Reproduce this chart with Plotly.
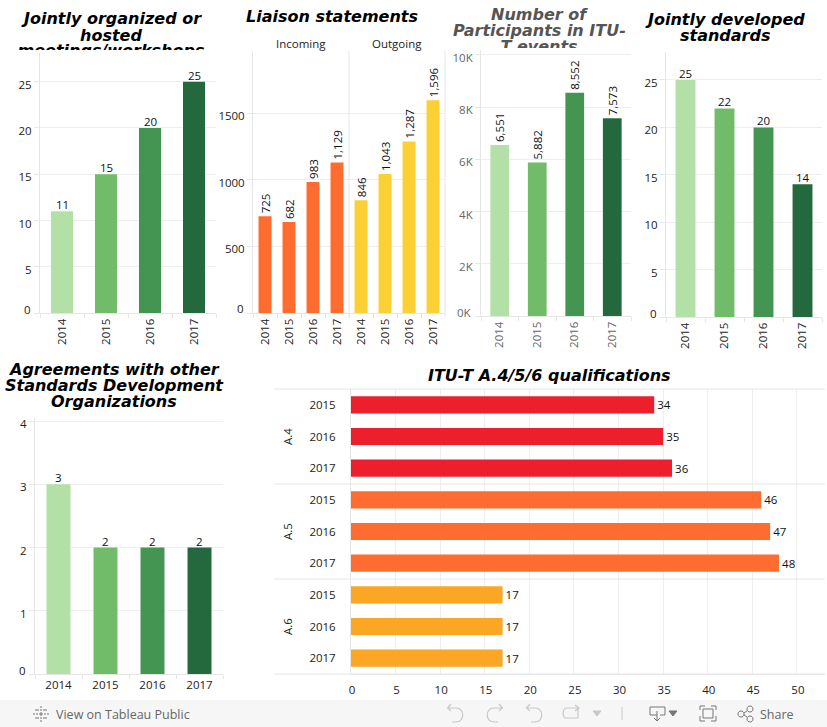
import plotly.graph_objects as go

W, H = 827, 727

years4 = ["2014", "2015", "2016", "2017"]
years3 = ["2015", "2016", "2017"]
greens = ["#B3E0A6", "#71BC68", "#449551", "#24693D"]

meetings = [11, 15, 20, 25]
liaison_cats = ["Incoming 2014", "Incoming 2015", "Incoming 2016", "Incoming 2017",
                "Outgoing 2014", "Outgoing 2015", "Outgoing 2016", "Outgoing 2017"]
liaison_labels = years4 + years4
liaison_vals = [725, 682, 983, 1129, 846, 1043, 1287, 1596]
liaison_colors = ["#FF6C2F"] * 4 + ["#FBD035"] * 4
participants = [6551, 5882, 8552, 7573]
standards = [25, 22, 20, 14]
agreements = [3, 2, 2, 2]
qual_cats = ["A.4 2015", "A.4 2016", "A.4 2017", "A.5 2015", "A.5 2016", "A.5 2017",
             "A.6 2015", "A.6 2016", "A.6 2017"]
qual_labels = years3 * 3
qual_vals = [34, 35, 36, 46, 47, 48, 17, 17, 17]
qual_colors = ["#ED1F2C"] * 3 + ["#FF6C2F"] * 3 + ["#FBA625"] * 3

FONT = "Open Sans"
TITLE = "DejaVu Sans"
INK = "#222222"
GREY = "#666666"
LINE = "#e6e6e6"
GRID = "#eeeeee"


def fx(px):
    return px / W


def fy(px):
    return 1 - px / H


fig = go.Figure()
layout = dict(
    width=W, height=H, autosize=False, margin=dict(l=0, r=0, t=0, b=0, pad=0),
    paper_bgcolor="white", plot_bgcolor="white", showlegend=False, bargap=0.5,
    font=dict(family=FONT, size=12, color=INK),
)
annotations = []
shapes = []


def add_vertical(idx, cats, vals, colors, xpx, ypx, ymax, yvals, ytext, gap, angle,
                 xangle=-90, color=INK, ticktext=None, yzero_shift=-4):
    sfx = "" if idx == 1 else str(idx)
    bar = dict(x=cats, y=vals, marker=dict(color=colors, line=dict(width=0)), width=gap,
               cliponaxis=False, xaxis="x" + sfx, yaxis="y" + sfx, hoverinfo="x+y")
    if angle:
        bar.update(texttemplate="%{y:,}", textposition="outside", textangle=angle,
                   constraintext="none", textfont=dict(family=FONT, size=11.5, color="#111111"))
    else:
        for i, v in enumerate(vals):
            annotations.append(dict(text=f"{v:,}", xref="x" + sfx, yref="y" + sfx, x=i, y=v,
                                    xanchor="center", yanchor="bottom", yshift=-3, showarrow=False,
                                    font=dict(family=FONT, size=11.5, color="#111111")))
    fig.add_trace(go.Bar(**bar))
    layout["xaxis" + sfx] = dict(
        domain=[fx(xpx[0]), fx(xpx[1])], anchor="y" + sfx, type="category", automargin=False,
        categoryorder="array", categoryarray=cats, tickmode="array", tickvals=cats,
        ticktext=ticktext or cats, tickson="boundaries", ticks="outside", ticklen=4,
        tickcolor=LINE, tickangle=xangle, showgrid=False, showline=True,
        linecolor=LINE, linewidth=1, zeroline=False, fixedrange=True,
        tickfont=dict(family=FONT, size=11.5, color=color))
    layout["yaxis" + sfx] = dict(
        domain=[fy(ypx[1]), fy(ypx[0])], anchor="x" + sfx, range=[0, ymax], automargin=False,
        tickmode="array", tickvals=yvals, ticktext=["" if v == 0 else t for v, t in zip(yvals, ytext)],
        ticks="outside", ticklen=5, tickcolor=LINE, showgrid=True, gridcolor=GRID,
        gridwidth=1, showline=True, linecolor=LINE, linewidth=1, zeroline=False,
        fixedrange=True, ticklabelshift=3, tickfont=dict(family=FONT, size=11.5, color=color))
    annotations.append(dict(
        text=ytext[0], xref="paper", x=fx(xpx[0] - 7), xanchor="right", yref="y" + sfx,
        y=0, yanchor="middle", yshift=-yzero_shift, showarrow=False,
        font=dict(family=FONT, size=11.5, color=color)))


add_vertical(1, years4, meetings, greens, (40, 216), (53, 313), 28.1,
             [0, 5, 10, 15, 20, 25], ["0", "5", "10", "15", "20", "25"], 0.5, 0)
add_vertical(2, liaison_cats, liaison_vals, liaison_colors, (253, 445), (51, 313), 1965,
             [0, 500, 1000, 1500], ["0", "500", "1000", "1500"], 0.54, -90,
             ticktext=liaison_labels)
add_vertical(3, years4, participants, greens, (481, 631), (50, 316), 10190,
             [0, 2000, 4000, 6000, 8000, 10000], ["0K", "2K", "4K", "6K", "8K", "10K"], 0.5, -90,
             color=GREY)
add_vertical(4, years4, standards, greens, (666, 822), (52, 317), 27.95,
             [0, 5, 10, 15, 20, 25], ["0", "5", "10", "15", "20", "25"], 0.51, 0)
add_vertical(5, years4, agreements, greens, (35, 223), (418, 674), 4.05,
             [0, 1, 2, 3, 4], ["0", "1", "2", "3", "4"], 0.51, 0, xangle=0)

# ITU-T A.4/5/6 qualifications
fig.add_trace(go.Bar(
    x=qual_vals, y=qual_cats, orientation="h", marker=dict(color=qual_colors, line=dict(width=0)),
    width=0.54, texttemplate="%{x}", textposition="outside", constraintext="none",
    textfont=dict(family=FONT, size=11.5, color="#111111"), cliponaxis=False,
    xaxis="x6", yaxis="y6", hoverinfo="x+y"))
layout["xaxis6"] = dict(
    domain=[fx(351), fx(825)], anchor="y6", range=[0, 53.15], tickmode="array", automargin=False,
    tickvals=[0, 5, 10, 15, 20, 25, 30, 35, 40, 45, 50],
    ticks="", showgrid=True, gridcolor=GRID, gridwidth=1, showline=True, linecolor=LINE,
    zeroline=False, fixedrange=True, ticklabelstandoff=5, ticklabelshift=1,
    tickfont=dict(family=FONT, size=11.5))
layout["yaxis6"] = dict(
    domain=[fy(674), fy(389)], anchor="x6", type="category", categoryorder="array", automargin=False,
    categoryarray=qual_cats[::-1], tickmode="array", tickvals=qual_cats, ticktext=qual_labels,
    ticks="", showgrid=False, showline=True, linecolor=LINE, zeroline=False,
    fixedrange=True, ticklabelstandoff=12, tickfont=dict(family=FONT, size=11.5))
for px in (389, 484, 579, 674):
    shapes.append(dict(type="line", xref="paper", yref="paper", x0=fx(274), x1=fx(825),
                       y0=fy(px), y1=fy(px), line=dict(color=LINE, width=1)))
for name, py in (("A.4", 437), ("A.5", 532), ("A.6", 627)):
    annotations.append(dict(text=name, xref="paper", yref="paper", x=fx(287), y=fy(py),
                            xanchor="center", yanchor="middle", textangle=-90, showarrow=False,
                            font=dict(family=FONT, size=11.5, color=INK)))

# liaison headers and dividers
for px in (349, 445):
    shapes.append(dict(type="line", xref="paper", yref="paper", x0=fx(px), x1=fx(px),
                       y0=fy(51), y1=fy(317), line=dict(color=LINE, width=1)))
for name, px in (("Incoming", 301), ("Outgoing", 397)):
    annotations.append(dict(text=name, xref="paper", yref="paper", x=fx(px), y=fy(43),
                            xanchor="center", yanchor="middle", showarrow=False,
                            font=dict(family=FONT, size=11.5, color=INK)))


def title_line(text, cx, cy, color="black", clip_bottom=None):
    a = dict(text=f"<b><i>{text}</i></b>", xref="paper", yref="paper", x=fx(cx), xanchor="center",
             showarrow=False, font=dict(family=TITLE, size=16, color=color), borderpad=0, borderwidth=0)
    if clip_bottom is None:
        a.update(y=fy(cy), yanchor="middle")
    else:
        top = cy - 11
        a.update(y=fy(top), yanchor="top", valign="top", height=clip_bottom - top,
                 width=260)
    annotations.append(a)


title_line("Jointly organized or", 111, 18)
title_line("hosted", 111, 35)
title_line("meetings/workshops", 111, 52, clip_bottom=50)
title_line("Liaison statements", 332, 16)
title_line("Number of", 539, 15, color="#555555")
title_line("Participants in ITU-", 539, 31, color="#555555")
title_line("T events", 539, 48, color="#555555", clip_bottom=48)
title_line("Jointly developed", 725, 20)
title_line("standards", 725, 36)
title_line("Agreements with other", 114, 369)
title_line("Standards Development", 114, 385)
title_line("Organizations", 114, 401)
title_line("ITU-T A.4/5/6 qualifications", 549, 375)

# footer toolbar
shapes.append(dict(type="rect", xref="paper", yref="paper", x0=0, x1=1, y0=0, y1=fy(700),
                   fillcolor="#f6f6f6", line=dict(width=0), layer="below"))
annotations.append(dict(text="View on Tableau Public", xref="paper", yref="paper", x=fx(54), y=fy(714),
                        xanchor="left", yanchor="middle", showarrow=False,
                        font=dict(family=FONT, size=12.5, color=GREY)))
annotations.append(dict(text="Share", xref="paper", yref="paper", x=fx(758), y=fy(714),
                        xanchor="left", yanchor="middle", showarrow=False,
                        font=dict(family=FONT, size=12.5, color=GREY)))


def icon(cmds, color, fill=None, width=1):
    parts = []
    for c in cmds:
        if isinstance(c, str):
            parts.append(c)
        else:
            parts.append(f"{fx(c[0]):.5f},{fy(c[1]):.5f}")
    d = dict(type="path", xref="paper", yref="paper", path=" ".join(parts), line=dict(color=color, width=width))
    if fill:
        d["fillcolor"] = fill
    shapes.append(d)


ARROW = "#c8c8c8"
DARK = "#777777"


def undo(x, flip=False):
    def X(v):
        return x + 16 - v if flip else x + v
    icon(["M", (X(5), 708), "L", (X(9), 708), "C", (X(18), 708), (X(18), 722), (X(9), 722), "L", (X(5), 722)], ARROW, width=1.2)
    icon(["M", (X(0.5), 708), "L", (X(5), 708), "M", (X(4), 704), "L", (X(0.5), 708), "L", (X(4), 711)], ARROW, width=1.2)


undo(447)
undo(487, flip=True)
undo(526)
icon(["M", (567, 708), "L", (578, 708), "L", (578, 718), "L", (566, 718), "C", (562, 718), (562, 708), (567, 708)], ARROW, width=1.2)
icon(["M", (575, 705), "L", (579, 708), "L", (575, 711)], ARROW, width=1.2)
icon(["M", (593, 711), "L", (601, 711), "L", (597, 716), "Z"], ARROW, fill=ARROW)
icon(["M", (622, 707), "L", (622, 720)], ARROW)
icon(["M", (657, 715), "L", (650, 715), "L", (650, 707), "L", (665, 707), "L", (665, 715), "L", (660, 715)], DARK)
icon(["M", (657, 711), "L", (657, 721), "M", (654, 718), "L", (657, 721), "L", (660, 718)], DARK)
icon(["M", (669, 711), "L", (677, 711), "L", (673, 716), "Z"], DARK, fill=DARK)
icon(["M", (700, 710), "L", (700, 706), "L", (705, 706), "M", (711, 706), "L", (716, 706), "L", (716, 710),
      "M", (716, 716), "L", (716, 721), "L", (711, 721), "M", (705, 721), "L", (700, 721), "L", (700, 716)], DARK)
icon(["M", (703, 709), "L", (713, 709), "L", (713, 718), "L", (703, 718), "Z"], DARK)
for cx, cy in ((741, 714), (750, 709), (750, 719)):
    icon(["M", (cx - 3, cy), "C", (cx - 3, cy - 4), (cx + 3, cy - 4), (cx + 3, cy),
          "C", (cx + 3, cy + 4), (cx - 3, cy + 4), (cx - 3, cy), "Z"], DARK)
icon(["M", (744, 713), "L", (747, 711), "M", (744, 715), "L", (747, 717)], DARK)
for dx, dy in ((0, -7), (0, -4), (0, 4), (0, 7), (-7, 0), (-4, 0), (4, 0), (7, 0), (0, -1), (0, 1),
               (-3, -4), (3, -4), (-3, 4), (3, 4), (-1, 0), (1, 0), (-5, -4), (5, -4), (-5, 4), (5, 4)):
    icon(["M", (41 + dx - 1, 714 + dy), "L", (41 + dx + 1, 714 + dy)], DARK)

layout["annotations"] = annotations
layout["shapes"] = shapes
fig.update_layout(**layout)
fig.write_html("out.html", config={"displayModeBar": False, "responsive": False},
               post_script="document.body.style.margin='0';document.body.style.overflow='hidden';")
